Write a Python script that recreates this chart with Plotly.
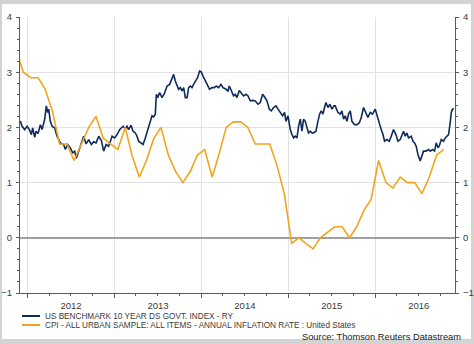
import pandas as pd
import plotly.graph_objects as go

# ---------------- data ----------------
series_names = [
    "US BENCHMARK 10 YEAR DS GOVT. INDEX - RY",
    "CPI - ALL URBAN SAMPLE: ALL ITEMS - ANNUAL INFLATION RATE : United States",
]
source_text = "Source: Thomson Reuters Datastream"

# US 10y benchmark yield (%), observation time as decimal years
yield_time = [
    2011.908, 2011.920, 2011.939, 2011.969, 2011.997, 2012.023, 2012.046, 2012.061, 2012.084, 2012.100,
    2012.123, 2012.149, 2012.169, 2012.199, 2012.218, 2012.233, 2012.245, 2012.264, 2012.284, 2012.314,
    2012.341, 2012.379, 2012.417, 2012.437, 2012.463, 2012.494, 2012.521, 2012.544, 2012.563, 2012.590,
    2012.621, 2012.647, 2012.675, 2012.705, 2012.736, 2012.762, 2012.790, 2012.820, 2012.851, 2012.877,
    2012.905, 2012.934, 2012.974, 2013.003, 2013.031, 2013.061, 2013.100, 2013.126, 2013.146, 2013.164,
    2013.192, 2013.215, 2013.241, 2013.261, 2013.279, 2013.307, 2013.330, 2013.356, 2013.383, 2013.414,
    2013.433, 2013.452, 2013.471, 2013.483, 2013.498, 2013.521, 2013.548, 2013.575, 2013.606, 2013.636,
    2013.663, 2013.682, 2013.701, 2013.721, 2013.739, 2013.759, 2013.778, 2013.797, 2013.816, 2013.836,
    2013.854, 2013.874, 2013.893, 2013.911, 2013.931, 2013.957, 2013.980, 2013.997, 2014.020, 2014.046,
    2014.072, 2014.095, 2014.123, 2014.149, 2014.172, 2014.199, 2014.226, 2014.249, 2014.276, 2014.307,
    2014.322, 2014.345, 2014.371, 2014.391, 2014.410, 2014.437, 2014.460, 2014.486, 2014.514, 2014.537,
    2014.563, 2014.590, 2014.621, 2014.652, 2014.678, 2014.705, 2014.728, 2014.755, 2014.782, 2014.805,
    2014.831, 2014.859, 2014.882, 2014.908, 2014.934, 2014.957, 2014.974, 2014.997, 2015.023, 2015.043,
    2015.061, 2015.080, 2015.100, 2015.118, 2015.138, 2015.157, 2015.176, 2015.195, 2015.215, 2015.233,
    2015.253, 2015.272, 2015.291, 2015.318, 2015.341, 2015.360, 2015.379, 2015.399, 2015.417, 2015.433,
    2015.456, 2015.479, 2015.502, 2015.525, 2015.540, 2015.571, 2015.598, 2015.617, 2015.636, 2015.655,
    2015.675, 2015.693, 2015.713, 2015.732, 2015.762, 2015.790, 2015.816, 2015.839, 2015.866, 2015.893,
    2015.916, 2015.943, 2015.969, 2016.000, 2016.020, 2016.046, 2016.069, 2016.089, 2016.107, 2016.134,
    2016.161, 2016.184, 2016.210, 2016.238, 2016.261, 2016.287, 2016.307, 2016.326, 2016.345, 2016.364,
    2016.383, 2016.414, 2016.434, 2016.452, 2016.471, 2016.491, 2016.517, 2016.537, 2016.555, 2016.583,
    2016.613, 2016.632, 2016.659, 2016.682, 2016.701, 2016.721, 2016.736, 2016.759, 2016.785, 2016.805,
    2016.824, 2016.843, 2016.862, 2016.874, 2016.889, 2016.905,
]
yield_value = [
    2.08, 2.11, 2.02, 1.96, 2.02, 1.96, 1.87, 1.99, 1.82, 1.93,
    1.89, 2.05, 1.96, 2.15, 2.39, 2.27, 2.33, 2.11, 2.02, 1.99,
    1.84, 1.72, 1.69, 1.60, 1.69, 1.63, 1.54, 1.57, 1.44, 1.57,
    1.72, 1.84, 1.70, 1.78, 1.69, 1.74, 1.72, 1.84, 1.76, 1.57,
    1.69, 1.66, 1.84, 1.81, 1.87, 1.96, 2.02, 1.98, 2.02, 1.96,
    2.04, 1.93, 1.90, 1.84, 1.75, 1.72, 1.69, 1.81, 1.96, 2.15,
    2.21, 2.19, 2.24, 2.60, 2.54, 2.63, 2.54, 2.61, 2.75, 2.78,
    2.90, 2.96, 2.84, 2.75, 2.69, 2.72, 2.66, 2.72, 2.54, 2.54,
    2.72, 2.75, 2.72, 2.78, 2.84, 2.90, 3.02, 3.01, 2.93, 2.84,
    2.75, 2.69, 2.72, 2.72, 2.75, 2.72, 2.78, 2.72, 2.70, 2.66,
    2.75, 2.66, 2.57, 2.60, 2.54, 2.67, 2.63, 2.57, 2.60, 2.57,
    2.48, 2.49, 2.48, 2.42, 2.45, 2.60, 2.55, 2.48, 2.33, 2.30,
    2.36, 2.39, 2.33, 2.27, 2.21, 2.27, 2.11, 2.21, 1.96, 1.87,
    1.81, 1.84, 1.81, 2.02, 2.15, 1.93, 2.15, 2.11, 2.02, 1.90,
    1.93, 1.90, 1.90, 1.93, 2.11, 2.24, 2.30, 2.24, 2.36, 2.45,
    2.36, 2.42, 2.33, 2.39, 2.39, 2.27, 2.24, 2.30, 2.15, 2.21,
    2.11, 2.24, 2.30, 2.11, 2.05, 2.05, 2.08, 2.18, 2.36, 2.27,
    2.18, 2.27, 2.24, 2.33, 2.21, 2.05, 1.96, 1.87, 1.75, 1.78,
    1.75, 1.84, 1.96, 1.87, 1.75, 1.78, 1.87, 1.93, 1.84, 1.90,
    1.81, 1.84, 1.75, 1.72, 1.66, 1.51, 1.39, 1.48, 1.57, 1.57,
    1.60, 1.57, 1.60, 1.57, 1.72, 1.63, 1.66, 1.78, 1.75, 1.81,
    1.84, 1.87, 2.08, 2.27, 2.33, 2.34,
]

# CPI annual inflation rate (%), monthly from Nov 2011
cpi_first_month = "2011-11-01"
cpi_value = [
    3.4, 3.0,
    2.9, 2.9, 2.7, 2.3, 1.7, 1.7, 1.4, 1.7, 2.0, 2.2, 1.8, 1.7,
    1.6, 2.0, 1.5, 1.1, 1.4, 1.8, 2.0, 1.5, 1.2, 1.0, 1.2, 1.5,
    1.6, 1.1, 1.5, 2.0, 2.1, 2.1, 2.0, 1.7, 1.7, 1.7, 1.3, 0.8,
    -0.1, 0.0, -0.1, -0.2, 0.0, 0.1, 0.2, 0.2, 0.0, 0.2, 0.5, 0.7,
    1.4, 1.0, 0.9, 1.1, 1.0, 1.0, 0.8, 1.1, 1.5, 1.6,
]

x_range = ["2011-12-01", "2016-12-01"]
y_range = [-1, 4]

# ---------------- build ----------------
base = pd.Timestamp("2012-01-01")
yield_dates = [base + pd.to_timedelta((t - 2012) * 365.25, unit="D") for t in yield_time]
cpi_dates = pd.date_range(cpi_first_month, periods=len(cpi_value), freq="MS") + pd.Timedelta(days=14)

BLUE = "#0f2b5b"
GOLD = "#f0a51e"
FONT = "Liberation Sans, Arial, sans-serif"
TXT = "#3a3a3a"
GRID = "#e2e2e2"
AXIS = "#5a5a5a"

fig = go.Figure()
fig.add_trace(go.Scatter(x=yield_dates, y=yield_value, mode="lines", name=series_names[0],
                         line=dict(color=BLUE, width=1.6), showlegend=False))
fig.add_trace(go.Scatter(x=cpi_dates, y=cpi_value, mode="lines", name=series_names[1],
                         line=dict(color=GOLD, width=1.6), showlegend=False, yaxis="y2"))

W, H = 474, 344
ml, mr, mt, mb = 20, 19, 17, 51
pw, ph = W - ml - mr, H - mt - mb


def px_x(p):
    return (p - ml) / pw


def px_y(p):
    return (H - mb - p) / ph


yaxis_common = dict(range=y_range, dtick=1, tick0=0, showline=True, linecolor=AXIS, linewidth=1,
                    automargin=False,
                    ticks="outside", ticklen=3, tickcolor=AXIS, ticklabelstandoff=2,
                    tickfont=dict(family=FONT, size=9.5, color=TXT),
                    minor=dict(dtick=0.2, ticks="outside", ticklen=2, tickcolor=AXIS, showgrid=False))

fig.update_layout(
    width=W, height=H,
    margin=dict(l=ml, r=mr, t=mt, b=mb, pad=0, autoexpand=False),
    paper_bgcolor="#d3d3d3",
    plot_bgcolor="white",
    xaxis=dict(type="date", range=x_range, dtick="M12", tick0="2012-01-01",
               ticklabelmode="period", tickformat="%Y", automargin=False,
               showgrid=True, gridcolor=GRID, gridwidth=1,
               showline=True, linecolor=AXIS, linewidth=1,
               ticks="outside", ticklen=4, tickcolor=AXIS,
               tickfont=dict(family=FONT, size=9.5, color=TXT),
               minor=dict(dtick="M3", ticks="outside", ticklen=2, tickcolor=AXIS, showgrid=False)),
    yaxis=dict(**yaxis_common, showgrid=True, gridcolor=GRID, gridwidth=1,
               zeroline=True, zerolinecolor="#a0a0a0", zerolinewidth=1.5),
    yaxis2=dict(**yaxis_common, overlaying="y", side="right", anchor="x",
                showgrid=False, zeroline=False),
    showlegend=False,
)

shapes = [
    dict(type="rect", xref="paper", yref="paper", layer="below",
         x0=px_x(2), x1=px_x(471), y0=px_y(4), y1=px_y(339),
         fillcolor="white", line=dict(width=0)),
]
annotations = []
legend_rows = [(316, BLUE), (325, GOLD)]
for name, (row_y, col) in zip(series_names, legend_rows):
    shapes.append(dict(type="line", xref="paper", yref="paper",
                       x0=px_x(22), x1=px_x(40), y0=px_y(row_y), y1=px_y(row_y),
                       line=dict(color=col, width=2)))
    annotations.append(dict(text=name, xref="paper", yref="paper", x=px_x(43), y=px_y(row_y),
                            xanchor="left", yanchor="middle", showarrow=False,
                            font=dict(family=FONT, size=8.2, color=TXT)))
annotations.append(dict(text=source_text, xref="paper", yref="paper", x=px_x(463), y=px_y(336.5),
                        xanchor="right", yanchor="middle", showarrow=False,
                        font=dict(family=FONT, size=9.3, color="#222222")))
fig.update_layout(shapes=shapes, annotations=annotations)

fig.write_html("out.html")
